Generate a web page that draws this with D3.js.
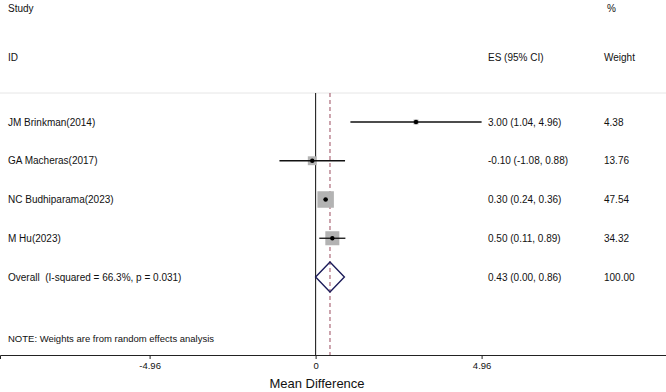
<!DOCTYPE html>
<html>
<head>
<meta charset="utf-8">
<script src="https://cdn.jsdelivr.net/npm/d3@7"></script>
<style>
  body { margin: 0; background: #fff; }
  text { font-family: "Liberation Sans", Arial, sans-serif; fill: #111; white-space: pre; }
</style>
</head>
<body>
<div id="chart"></div>
<script>
// données de la méta-analyse
const studies = ["JM Brinkman(2014)", "GA Macheras(2017)", "NC Budhiparama(2023)", "M Hu(2023)"];
const es = [3.00, -0.10, 0.30, 0.50];
const lower = [1.04, -1.08, 0.24, 0.11];
const upper = [4.96, 0.88, 0.36, 0.89];
const weights = [4.38, 13.76, 47.54, 34.32];

const overallLabel = "Overall  (I-squared = 66.3%, p = 0.031)";
const overall = { es: 0.43, lo: 0.00, hi: 0.86, weight: 100.00 };

const tickValues = [-4.96, 0, 4.96];

const width = 666, height = 392;
const axisY = 355;

const svg = d3.select("#chart").append("svg")
  .attr("width", width).attr("height", height);

const x = d3.scaleLinear().domain([-9.43, 10.47]).range([0, width]);
const rows = d3.range(studies.length + 1);
const y = d3.scalePoint().domain(rows).range([122, 277]);
const boxSide = d3.scaleSqrt().domain([0, 47.54]).range([0, 16.5]);

// format avec un tiret simple (pas le signe moins unicode)
const fmt = d3.formatLocale({ decimal: ".", thousands: ",", grouping: [3], currency: ["", ""], minus: "-" }).format(".2f");

function txt(xp, yp, s, size) {
  return svg.append("text").attr("x", xp).attr("y", yp).attr("dominant-baseline", "central")
    .style("font-size", (size || 10) + "px").text(s);
}

// en-têtes
txt(8, 8, "Study");
txt(8, 57, "ID");
txt(488, 57, "ES (95% CI)");
txt(607, 8, "%");
txt(604, 57, "Weight");

// ligne de fond très claire en haut
svg.append("line").attr("x1", 0).attr("x2", width).attr("y1", 93).attr("y2", 93)
  .attr("stroke", "#e6e6e6").attr("stroke-width", 1);

// ligne zéro et ligne de l'effet global
svg.append("line").attr("x1", x(0)).attr("x2", x(0)).attr("y1", 93).attr("y2", axisY)
  .attr("stroke", "#222").attr("stroke-width", 1.1);
svg.append("line").attr("x1", x(overall.es)).attr("x2", x(overall.es)).attr("y1", 93).attr("y2", axisY)
  .attr("stroke", "#9b4a5e").attr("stroke-width", 1).attr("stroke-dasharray", "4,3");

// études
studies.forEach((s, i) => {
  const cy = y(i);
  const side = boxSide(weights[i]);
  svg.append("rect")
    .attr("x", x(es[i]) - side / 2).attr("y", cy - side / 2)
    .attr("width", side).attr("height", side)
    .attr("fill", "#b3b3b3");
  svg.append("line")
    .attr("x1", x(lower[i])).attr("x2", x(upper[i])).attr("y1", cy).attr("y2", cy)
    .attr("stroke", "#111").attr("stroke-width", 1.3);
  svg.append("circle").attr("cx", x(es[i])).attr("cy", cy).attr("r", 2.2).attr("fill", "#000");

  txt(8, cy, s);
  txt(488, cy, `${fmt(es[i])} (${fmt(lower[i])}, ${fmt(upper[i])})`);
  txt(604, cy, fmt(weights[i]));
});

// losange global
const oy = y(studies.length);
svg.append("path")
  .attr("d", `M${x(overall.lo)},${oy} L${x(overall.es)},${oy - 15} L${x(overall.hi)},${oy} L${x(overall.es)},${oy + 15} Z`)
  .attr("fill", "none").attr("stroke", "#1c1c5a").attr("stroke-width", 1.4);
txt(8, oy, overallLabel);
txt(488, oy, `${fmt(overall.es)} (${fmt(overall.lo)}, ${fmt(overall.hi)})`);
txt(604, oy, fmt(overall.weight));

txt(8, 338, "NOTE: Weights are from random effects analysis", 9.5);

// axe
const axis = svg.append("g").attr("transform", `translate(0,${axisY})`)
  .call(d3.axisBottom(x).tickValues(tickValues).tickSize(4).tickPadding(3)
    .tickFormat(d => d === 0 ? "0" : fmt(d)));
axis.select(".domain").attr("stroke", "#222");
axis.selectAll(".tick line").attr("stroke", "#222");
axis.selectAll(".tick text").style("font-size", "9.5px")
  .style("font-family", "'Liberation Sans', Arial, sans-serif").attr("fill", "#111");

svg.append("text").attr("x", 317).attr("y", 383).attr("text-anchor", "middle")
  .attr("dominant-baseline", "central").style("font-size", "13px").text("Mean Difference");
</script>
</body>
</html>
